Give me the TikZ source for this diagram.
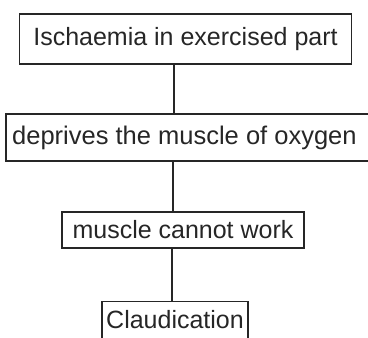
\documentclass[tikz,border=0pt]{standalone}
\usepackage{fontspec}
\setmainfont{Liberation Sans}
\begin{document}
\begin{tikzpicture}[x=1pt,y=-1pt,
  boxs/.style={draw=black!85, line width=1.4pt, inner sep=0pt, font=\fontsize{25}{28}\selectfont, text=black!85},
  conn/.style={draw=black!85, line width=1.3pt}]
\useasboundingbox (0,0) rectangle (368,338);
\clip (0,0) rectangle (368,338);
\node[boxs, minimum width=332pt, minimum height=50pt] (b1) at (185.5,39) {Ischaemia in exercised part};
\node[boxs, minimum width=370pt, minimum height=47pt] (b2) at (191,137.5) {};
\node[font=\fontsize{25.5}{28}\selectfont, text=black!85, anchor=west, inner sep=0pt] (t2) at (12,137.5) {deprives the muscle of oxygen};
\node[boxs, minimum width=242pt, minimum height=36pt] (b3) at (183,230) {muscle cannot work};
\node[boxs, minimum width=146pt, minimum height=50pt, anchor=north] (b4) at (175,301) {};
\node[font=\fontsize{25}{28}\selectfont, text=black!85, inner sep=0pt] (t4) at (175,319.5) {Claudication};
\coordinate (l1) at (174,0);
\coordinate (l2) at (173,0);
\coordinate (l3) at (172,0);
\draw[conn] (b1.south -| l1) -- (b2.north -| l1);
\draw[conn] (b2.south -| l2) -- (b3.north -| l2);
\draw[conn] (b3.south -| l3) -- (b4.north -| l3);
\end{tikzpicture}
\end{document}
